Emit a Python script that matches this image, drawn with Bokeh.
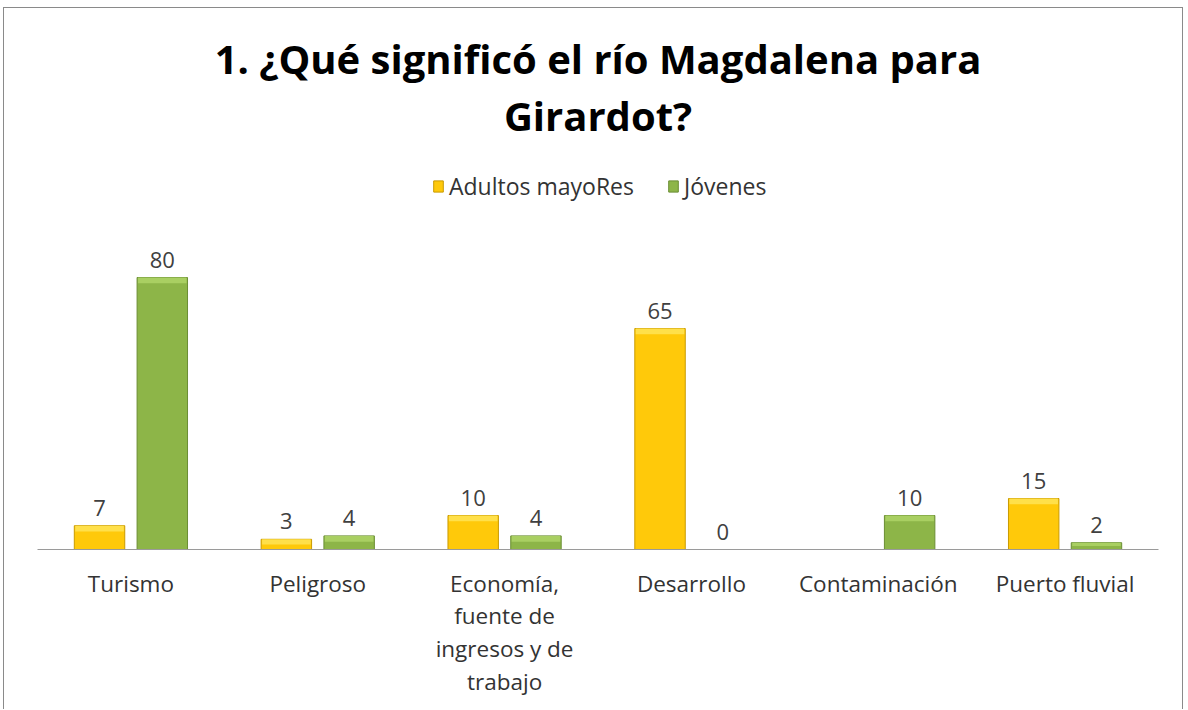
import math
from bokeh.plotting import figure
from bokeh.models import ColumnDataSource, Range1d, FactorRange, Label, Legend, LegendItem
from bokeh.transform import dodge
from bokeh.core.properties import value
from bokeh.embed import file_html
from bokeh.resources import INLINE

# ---- data ----
categories = ["Turismo", "Peligroso", "Economía,\nfuente de\ningresos y de\ntrabajo",
              "Desarrollo", "Contaminación", "Puerto fluvial"]
adultos = [7, 3, 10, 65, float("nan"), 15]
jovenes = [80, 4, 4, 0, 10, 2]
series_names = ["Adultos mayoRes", "Jóvenes"]
title_lines = ["1. ¿Qué significó el río Magdalena para", "Girardot?"]

FONT = "Open Sans"
PX_PER_UNIT = 3.4
FRAME_H = 541
Y_TOP = FRAME_H / PX_PER_UNIT

def lab(v):
    return "" if (v is None or (isinstance(v, float) and math.isnan(v))) else str(int(v))

def bevel_bottom(v):
    if isinstance(v, float) and math.isnan(v):
        return float("nan")
    return v - min(1.7, v / 2.0)

src = ColumnDataSource(data=dict(
    cat=categories,
    adultos=adultos,
    jovenes=jovenes,
    a_bev=[bevel_bottom(v) for v in adultos],
    j_bev=[bevel_bottom(v) for v in jovenes],
    a_lab=[lab(v) for v in adultos],
    j_lab=[lab(v) for v in jovenes],
    a_y=[0 if math.isnan(v) else v for v in adultos],
    j_y=jovenes,
))

p = figure(width=1180, height=702, x_range=FactorRange(*categories),
           y_range=Range1d(0, Y_TOP), output_backend="svg", toolbar_location=None,
           min_border_left=33, min_border_right=26, min_border_top=0, min_border_bottom=161)
p.styles = {"margin-left": "3px", "margin-top": "7px",
            "border-left": "1px solid #8a8a8a", "border-top": "1px solid #8a8a8a",
            "border-right": "1px solid #8a8a8a"}
p.outline_line_color = None
p.background_fill_color = "white"
p.border_fill_color = "white"
p.xgrid.visible = False
p.ygrid.visible = False
p.yaxis.visible = False
p.x_range.range_padding = 0
p.x_range.factor_padding = 0

OFF = 0.168
W = 0.27
ADU_FILL, ADU_EDGE, ADU_HI = "#FFC90A", "#C99A00", "#FFE04A"
JOV_FILL, JOV_EDGE, JOV_HI = "#8DB548", "#6B8E34", "#A9CF62"

ra = p.vbar(x=dodge("cat", -OFF, range=p.x_range), top="adultos", bottom=0, width=W,
            source=src, fill_color=ADU_FILL, line_color=ADU_EDGE, line_width=1)
rj = p.vbar(x=dodge("cat", OFF, range=p.x_range), top="jovenes", bottom=0, width=W,
            source=src, fill_color=JOV_FILL, line_color=JOV_EDGE, line_width=1)
p.vbar(x=dodge("cat", -OFF, range=p.x_range), top="adultos", bottom="a_bev", width=W - 0.01,
       source=src, fill_color=ADU_HI, line_color=None)
p.vbar(x=dodge("cat", OFF, range=p.x_range), top="jovenes", bottom="j_bev", width=W - 0.01,
       source=src, fill_color=JOV_HI, line_color=None)

# data labels
p.text(x=dodge("cat", -OFF, range=p.x_range), y="a_y", text="a_lab", source=src,
       text_font=value(FONT), text_font_size="22px", text_color="#404040",
       text_align="center", text_baseline="alphabetic", y_offset=-18)
p.text(x=dodge("cat", OFF, range=p.x_range), y="j_y", text="j_lab", source=src,
       text_font=value(FONT), text_font_size="22px", text_color="#404040",
       text_align="center", text_baseline="alphabetic", y_offset=-18)

# axis
ax = p.xaxis[0]
ax.axis_line_color = "#9a9a9a"
ax.axis_line_width = 1
ax.major_tick_line_color = None
ax.minor_tick_line_color = None
ax.major_tick_out = 0
ax.major_tick_in = 0
ax.major_label_standoff = 18
ax.major_label_text_font = FONT
ax.major_label_text_font_size = "22.5px"
ax.major_label_text_color = "#333333"
ax.major_label_text_line_height = 1.06

# title
for line, ypx in zip(title_lines, [50, 107]):
    p.add_layout(Label(x=len(categories) / 2.0, y=(FRAME_H - ypx) / PX_PER_UNIT, text=line,
                       text_align="center", text_baseline="alphabetic",
                       text_font=FONT, text_font_style="bold", text_font_size="40px",
                       text_color="#000000"))

# legend
legend = Legend(items=[LegendItem(label=series_names[0], renderers=[ra]),
                       LegendItem(label=series_names[1], renderers=[rj])],
                orientation="horizontal", location=(395, 347),
                label_text_font=FONT, label_text_font_size="23px", label_text_color="#333333",
                glyph_width=12, glyph_height=14, label_standoff=5, spacing=33,
                padding=0, margin=0, border_line_color=None, background_fill_alpha=0)
p.add_layout(legend, "center")

open("out.html", "w").write(file_html(p, INLINE))
